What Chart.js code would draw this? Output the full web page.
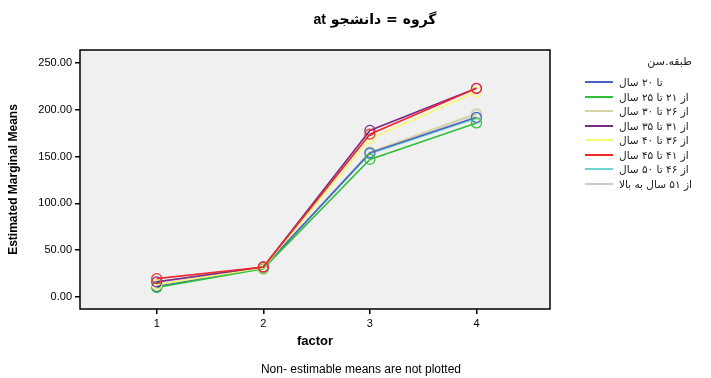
<!DOCTYPE html>
<html>
<head>
<meta charset="utf-8">
<script src="https://cdn.jsdelivr.net/npm/chart.js@4/dist/chart.umd.min.js"></script>
<style>
  body { margin: 0; background: #fff; }
  .wrap { position: relative; width: 711px; height: 378px; font-family: "Liberation Sans", Arial, sans-serif; }
  canvas { position: absolute; left: 0; top: 0; }
  .title { position: absolute; top: 11px; left: 0; width: 750px; text-align: center; font-weight: bold; font-size: 14px; font-family: "DejaVu Sans", sans-serif; }
  .title b { font-family: "Liberation Sans", Arial, sans-serif; }
  .note { position: absolute; top: 362px; left: 0; width: 722px; text-align: center; font-size: 12px; }
  .legend { position: absolute; left: 585px; top: 55px; font-family: "DejaVu Sans", sans-serif; font-size: 10.5px; color: #222; }
  .legend .head { margin-left: 36px; margin-bottom: 7px; font-size: 11px; }
  .legend .row { display: flex; align-items: center; height: 14.5px; }
  .legend .swatch { width: 28px; height: 0; border-top: 2px solid; margin-right: 6px; }
</style>
</head>
<body>
<div class="wrap">
  <canvas id="myChart" width="711" height="378"></canvas>
  <div class="title"><b>at</b> گروه = دانشجو</div>
  <div class="note">Non- estimable means are not plotted</div>
  <div class="legend" id="legend"><div class="head" dir="rtl">طبقه.سن</div></div>
</div>
<script>
const factors = [1, 2, 3, 4];
const groups = [
  "تا ۲۰ سال",
  "از ۲۱ تا ۲۵ سال",
  "از ۲۶ تا ۳۰ سال",
  "از ۳۱ تا ۳۵ سال",
  "از ۳۶ تا ۴۰ سال",
  "از ۴۱ تا ۴۵ سال",
  "از ۴۶ تا ۵۰ سال",
  "از ۵۱ سال به بالا",
];
const upTo20 = [11, 31, 154, 192];
const from21 = [10, 30, 147, 186];
const from26 = [13, 31, 155, 196];
const from31 = [16, 32, 178, 223];
const from36 = [13, 31, 169, 219];
const from41 = [19.5, 32, 174, 223];
const from46 = [11, 31, 153, 191];
const from51 = [13, 31, 154, 195];
const yTicks = [0, 50, 100, 150, 200, 250];

const series = [upTo20, from21, from26, from31, from36, from41, from46, from51];
const colors = ["#4a62c0", "#2ec03a", "#d8d4a4", "#7c2a8a", "#f8f870", "#f02a2a", "#70d4d4", "#cccccc"];
// lower number is drawn on top
const drawOrder = [5, 4, 6, 2, 3, 1, 7, 8];

const datasets = series.map(function (vals, i) {
  return {
    label: groups[i],
    data: vals.map(function (v, j) { return { x: factors[j], y: v }; }),
    order: drawOrder[i],
    borderColor: colors[i],
    backgroundColor: "rgba(0,0,0,0)",
    borderWidth: 1.6,
    pointRadius: 5,
    pointBorderWidth: 1.2,
    pointBorderColor: colors[i],
    pointBackgroundColor: "rgba(0,0,0,0)",
    tension: 0,
  };
});

// grey plot background with black frame
const frame = {
  id: "frame",
  beforeDraw(chart) {
    const a = chart.chartArea;
    const ctx = chart.ctx;
    ctx.save();
    ctx.fillStyle = "#f0f0f0";
    ctx.fillRect(a.left, a.top, a.right - a.left, a.bottom - a.top);
    ctx.restore();
  },
  afterDatasetsDraw(chart) {
    const a = chart.chartArea;
    const ctx = chart.ctx;
    ctx.save();
    ctx.strokeStyle = "#000";
    ctx.lineWidth = 1.5;
    ctx.strokeRect(a.left, a.top, a.right - a.left, a.bottom - a.top);
    ctx.restore();
  },
};

const config = {
  type: "line",
  data: { datasets },
  plugins: [frame],
  options: {
    responsive: false,
    animation: false,
    layout: { padding: { top: 50, right: 161, left: 0, bottom: 29 } },
    plugins: { legend: { display: false }, tooltip: { enabled: false } },
    scales: {
      x: {
        type: "linear",
        min: 0.28,
        max: 4.69,
        afterBuildTicks(scale) { scale.ticks = factors.map(function (v) { return { value: v }; }); },
        afterFit(scale) { scale.height = 40; },
        grid: { drawOnChartArea: false, tickLength: 5, color: "#000", lineWidth: 1.5 },
        border: { display: false },
        ticks: { color: "#000", padding: 3, font: { family: "Liberation Sans", size: 11 } },
        title: { display: true, text: "factor", color: "#000", padding: { top: 2, bottom: 0 }, font: { family: "Liberation Sans", size: 13, weight: "bold" } },
      },
      y: {
        min: -13,
        max: 264,
        afterBuildTicks(scale) { scale.ticks = yTicks.map(function (v) { return { value: v }; }); },
        afterFit(scale) { scale.width = 80; },
        grid: { drawOnChartArea: false, tickLength: 5, color: "#000", lineWidth: 1.5 },
        border: { display: false },
        ticks: { color: "#000", padding: 3, font: { family: "Liberation Sans", size: 11 }, callback: function (v) { return v.toFixed(2); } },
        title: { display: true, text: "Estimated Marginal Means", color: "#000", padding: { top: 6, bottom: 0 }, font: { family: "Liberation Sans", size: 12, weight: "bold" } },
      },
    },
  },
};

const myChart = new Chart(document.getElementById("myChart"), config);

// legend on the right
const legend = document.getElementById("legend");
groups.forEach(function (g, i) {
  const row = document.createElement("div");
  row.className = "row";
  row.innerHTML = '<span class="swatch" style="border-color:' + colors[i] + '"></span><span dir="rtl">' + g + "</span>";
  legend.appendChild(row);
});
</script>
</body>
</html>
